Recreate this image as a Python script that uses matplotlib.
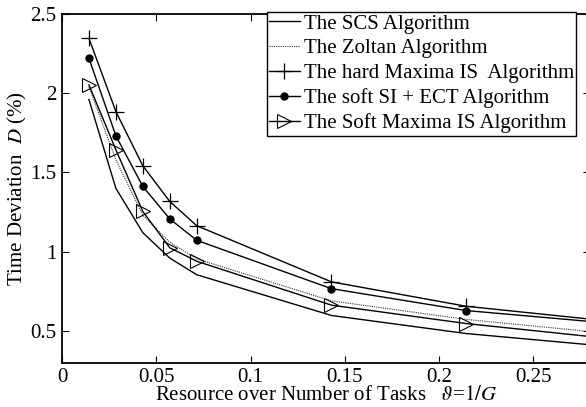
import numpy as np
import matplotlib
matplotlib.use("Agg")
from matplotlib import pyplot as plt

plt.rcParams['font.family'] = ['Liberation Serif', 'DejaVu Serif']
plt.rcParams['mathtext.fontset'] = 'stix'

# resource over number of tasks (1/G)
theta = [1/70, 2/70, 3/70, 4/70, 5/70, 10/70, 15/70, 20/70]

scs = [1.96, 1.40, 1.12, 0.96, 0.855, 0.598, 0.484, 0.407]
zoltan = [2.04, 1.58, 1.23, 1.06, 0.955, 0.69, 0.573, 0.49]
hard_maxima = [2.346, 1.884, 1.542, 1.317, 1.164, 0.81, 0.656, 0.568]
soft_si_ect = [2.22, 1.731, 1.412, 1.207, 1.072, 0.767, 0.629, 0.554]
soft_maxima = [2.052, 1.643, 1.254, 1.025, 0.94, 0.663, 0.547, 0.458]

labels = ['The SCS Algorithm', 'The Zoltan Algorithm',
          'The hard Maxima IS  Algorithm', 'The soft SI + ECT Algorithm',
          'The Soft Maxima IS Algorithm']

fig = plt.figure(figsize=(5.86, 4.07), dpi=100)
ax = fig.add_axes([62/586, 1 - 362.7/407, 528/586, (362.7 - 13.9)/407])

ax.plot(theta, scs, '-', color='k', lw=1.0, label=labels[0])
ax.plot(theta, zoltan, color='#333333', lw=0.8, dashes=(1, 1), label=labels[1])
ax.plot(theta, hard_maxima, '-', marker='+', ms=12, mew=0.9, color='k', lw=1.0, label=labels[2])
ax.plot(theta, soft_si_ect, '-', marker='o', ms=5, color='k', lw=1.0, label=labels[3])
ax.plot(theta, soft_maxima, '-', marker='>', ms=10, mfc='none', mew=0.8, color='k', lw=1.0, label=labels[4])

ax.set_xlim(0, 0.28)
ax.set_ylim(0.3, 2.5)
ax.set_xticks([0, 0.05, 0.1, 0.15, 0.2, 0.25])
ax.set_xticklabels(['0', '0.05', '0.1', '0.15', '0.2', '0.25'])
ax.set_yticks([0.5, 1, 1.5, 2, 2.5])
ax.set_yticklabels(['0.5', '1', '1.5', '2', '2.5'])
ax.tick_params(direction='in', top=True, right=True, labelsize=15, length=5, width=0.8, pad=4)
for s in ax.spines.values():
    s.set_linewidth(1.3)

ax.set_xlabel(r'Resource over Number of Tasks   $\vartheta$=$1/G$', fontsize=15, labelpad=-1)
ax.set_ylabel(r'Time Deviation  $D$ (%)', fontsize=15, labelpad=1)

leg = ax.legend(loc='upper right', bbox_to_anchor=(576/586, 1 - 12/407),
                bbox_transform=fig.transFigure, borderaxespad=0, fancybox=False,
                fontsize=15, handlelength=1.45, handletextpad=0.2,
                labelspacing=0.25, borderpad=0.1, framealpha=1)
leg.get_frame().set_edgecolor('k')
leg.get_frame().set_linewidth(1.0)

fig.savefig('out.png', dpi=100)
